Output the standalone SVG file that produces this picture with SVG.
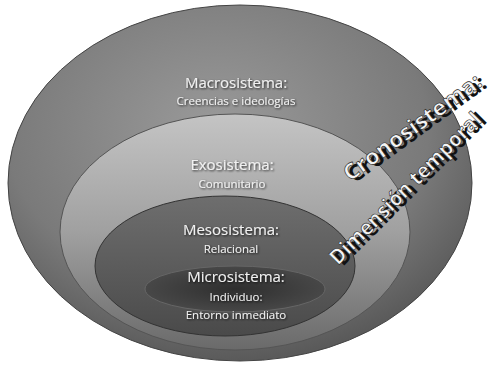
<svg xmlns="http://www.w3.org/2000/svg" width="500" height="366" viewBox="0 0 500 366">
<defs>
<radialGradient id="gMacro" cx="45%" cy="35%" r="65%">
<stop offset="0" stop-color="#9a9a9a"/><stop offset="0.7" stop-color="#7a7a7a"/><stop offset="1" stop-color="#5a5a5a"/>
</radialGradient>
<linearGradient id="gExo" x1="0" y1="0" x2="0" y2="1">
<stop offset="0" stop-color="#c4c4c4"/><stop offset="0.5" stop-color="#a0a0a0"/><stop offset="1" stop-color="#6a6a6a"/>
</linearGradient>
<linearGradient id="gMeso" x1="0" y1="0" x2="0" y2="1">
<stop offset="0" stop-color="#6e6e6e"/><stop offset="1" stop-color="#4a4a4a"/>
</linearGradient>
<radialGradient id="gMicro" cx="50%" cy="50%" r="55%">
<stop offset="0" stop-color="#2e2e2e"/><stop offset="1" stop-color="#4a4a4a"/>
</radialGradient>
<filter id="sh" x="-10%" y="-10%" width="130%" height="130%">
<feGaussianBlur in="SourceAlpha" stdDeviation="1"/><feOffset dx="1" dy="1"/>
<feComponentTransfer><feFuncA type="linear" slope="0.8"/></feComponentTransfer>
<feMerge><feMergeNode/><feMergeNode in="SourceGraphic"/></feMerge>
</filter>
</defs>
<style>
.t{font-family:"Open Sans","Noto Sans",sans-serif;fill:#f0f0f0;text-anchor:middle;filter:url(#sh)}
.h{font-size:15px}
.s{font-size:11.5px}
.c{font-family:"Open Sans","Noto Sans",sans-serif;fill:#f4f4f4;stroke:#222;stroke-width:0.6;font-weight:bold}
.cs{font-family:"Open Sans","Noto Sans",sans-serif;fill:#111;font-weight:bold}
</style>
<rect width="500" height="366" fill="#fff"/>
<g id="macrosistema">
<ellipse cx="240" cy="183" rx="232" ry="178" fill="url(#gMacro)" stroke="#444" stroke-width="1"/>
<text class="t h" x="236" y="88">Macrosistema:</text>
<text class="t s" x="236" y="105">Creencias e ideologías</text>
</g>
<g id="exosistema">
<ellipse cx="235" cy="232" rx="175" ry="118" fill="url(#gExo)" stroke="#555" stroke-width="1"/>
<text class="t h" x="232" y="170">Exosistema:</text>
<text class="t s" x="232" y="188">Comunitario</text>
</g>
<g id="mesosistema">
<ellipse cx="225" cy="266" rx="130" ry="70" fill="url(#gMeso)" stroke="#333" stroke-width="1"/>
<text class="t h" x="231" y="235">Mesosistema:</text>
<text class="t s" x="231" y="253">Relacional</text>
</g>
<g id="microsistema">
<ellipse cx="235" cy="289" rx="90" ry="23" fill="url(#gMicro)" stroke="#666" stroke-width="1"/>
<text class="t h" x="236" y="282">Microsistema:</text>
<text class="t s" x="236" y="301">Individuo:</text>
<text class="t s" x="236" y="319">Entorno inmediato</text>
</g>
<g id="cronosistema">
<g transform="translate(350,182) rotate(-36)">
<text class="cs" x="3" y="4" font-size="22" textLength="165" lengthAdjust="spacingAndGlyphs">Cronosistema:</text>
<text class="c" x="0" y="0" font-size="22" textLength="165" lengthAdjust="spacingAndGlyphs">Cronosistema:</text>
</g>
<g transform="translate(338,266) rotate(-45)">
<text class="cs" x="3" y="4" font-size="21" textLength="205" lengthAdjust="spacingAndGlyphs">Dimensión temporal</text>
<text class="c" x="0" y="0" font-size="21" textLength="205" lengthAdjust="spacingAndGlyphs">Dimensión temporal</text>
</g>
</g>
</svg>
